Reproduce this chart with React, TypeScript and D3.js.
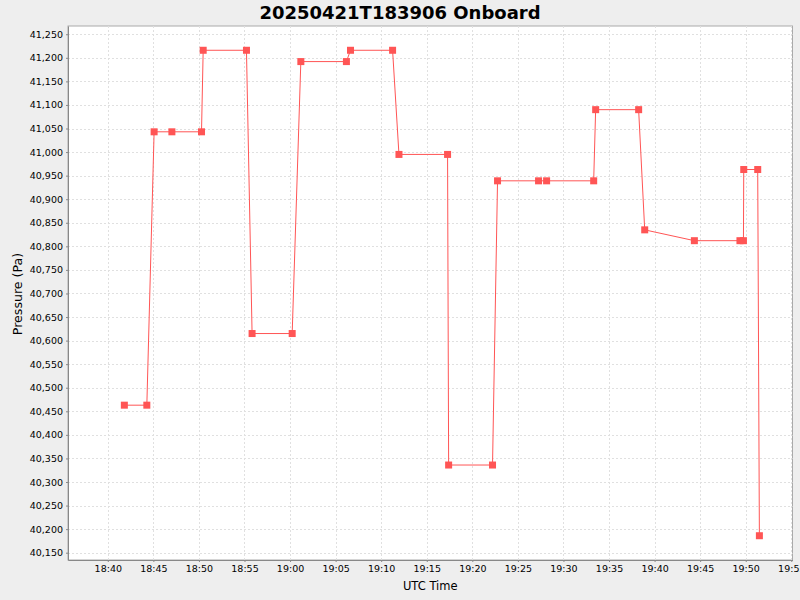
import { useEffect, useRef } from 'react'
import * as d3 from 'd3'

const title = '20250421T183906 Onboard'
const day = '2025-04-21'

// sample times (UTC) and pressure readings
const times = [
  '18:41:49', '18:44:17', '18:45:05', '18:47:02', '18:50:17', '18:50:28',
  '18:55:13', '18:55:50', '19:00:14', '19:01:11', '19:06:11', '19:06:38',
  '19:11:15', '19:11:57', '19:17:17', '19:17:24', '19:22:13', '19:22:46',
  '19:27:16', '19:28:09', '19:33:19', '19:33:32', '19:38:15', '19:38:55',
  '19:44:22', '19:49:22', '19:49:45', '19:49:47', '19:51:19', '19:51:30',
]
const pressures = [
  40463, 40463, 41043, 41043, 41043, 41216,
  41216, 40615, 40615, 41192, 41192, 41216,
  41216, 40995, 40995, 40336, 40336, 40939,
  40939, 40939, 40939, 41090, 41090, 40835,
  40812, 40812, 40812, 40963, 40963, 40186,
]

const timeRange = ['18:35:38', '19:55:08']
const xTickLabels = [
  '18:40', '18:45', '18:50', '18:55', '19:00', '19:05', '19:10', '19:15',
  '19:20', '19:25', '19:30', '19:35', '19:40', '19:45', '19:50', '19:55',
]
const yTickValues = [
  40150, 40200, 40250, 40300, 40350, 40400, 40450, 40500, 40550, 40600, 40650, 40700,
  40750, 40800, 40850, 40900, 40950, 41000, 41050, 41100, 41150, 41200, 41250,
]

const toDate = (t: string) => new Date(`${day}T${t}Z`)

const App = () => {
  const ref = useRef<SVGSVGElement>(null)

  useEffect(() => {
    const svg = d3.select(ref.current)
    svg.selectAll('*').remove()

    const width = 800
    const height = 600
    const margin = { top: 26, right: 7.5, bottom: 40, left: 68 }
    const font = 'DejaVu Sans, sans-serif'

    const data = times.map((t, i) => ({ time: toDate(t), value: pressures[i] }))

    const x = d3
      .scaleUtc()
      .domain(timeRange.map(toDate))
      .range([margin.left, width - margin.right])

    const [lo, hi] = d3.extent(pressures) as [number, number]
    const pad = (hi - lo) * 0.05
    const y = d3
      .scaleLinear()
      .domain([lo - pad, hi + pad])
      .range([height - margin.bottom, margin.top])

    svg.append('rect').attr('width', width).attr('height', height).attr('fill', '#eeeeee')

    svg
      .append('rect')
      .attr('x', margin.left)
      .attr('y', margin.top)
      .attr('width', width - margin.right - margin.left)
      .attr('height', height - margin.bottom - margin.top)
      .attr('fill', '#ffffff')
      .attr('stroke', '#aaaaaa')
      .attr('stroke-width', 1)

    const xTicks = xTickLabels.map(toDate)

    // grid
    const grid = svg
      .append('g')
      .attr('stroke', '#e0e0e0')
      .attr('stroke-width', 1)
      .attr('stroke-dasharray', '2,2')
    grid
      .selectAll('.vx')
      .data(xTicks)
      .join('line')
      .attr('x1', (d) => Math.round(x(d)) + 0.5)
      .attr('x2', (d) => Math.round(x(d)) + 0.5)
      .attr('y1', margin.top)
      .attr('y2', height - margin.bottom)
    grid
      .selectAll('.hy')
      .data(yTickValues)
      .join('line')
      .attr('y1', (d) => Math.round(y(d)) + 0.5)
      .attr('y2', (d) => Math.round(y(d)) + 0.5)
      .attr('x1', margin.left)
      .attr('x2', width - margin.right)

    // axes
    const xAxis = (g) =>
      g
        .attr('transform', `translate(0,${height - margin.bottom})`)
        .call(
          d3
            .axisBottom(x)
            .tickValues(xTicks)
            .tickFormat(d3.utcFormat('%H:%M'))
            .tickSize(2)
            .tickSizeOuter(0)
            .tickPadding(3)
        )
        .call((g) => g.select('.domain').attr('stroke', '#888888'))
        .call((g) => g.selectAll('.tick line').attr('stroke', '#888888'))
        .call((g) =>
          g.selectAll('.tick text').attr('font-size', 9.5).attr('font-family', font).attr('fill', '#000')
        )

    const yAxis = (g) =>
      g
        .attr('transform', `translate(${margin.left},0)`)
        .call(
          d3
            .axisLeft(y)
            .tickValues(yTickValues)
            .tickFormat(d3.format(','))
            .tickSize(2)
            .tickSizeOuter(0)
            .tickPadding(3)
        )
        .call((g) => g.select('.domain').attr('stroke', '#888888'))
        .call((g) => g.selectAll('.tick line').attr('stroke', '#888888'))
        .call((g) =>
          g.selectAll('.tick text').attr('font-size', 9.5).attr('font-family', font).attr('fill', '#000')
        )

    svg.append('g').call(xAxis)
    svg.append('g').call(yAxis)

    // series
    const plot = svg.append('g')
    plot
      .append('path')
      .datum(data)
      .attr('fill', 'none')
      .attr('stroke', '#ff5555')
      .attr('stroke-width', 1)
      .attr(
        'd',
        d3
          .line<{ time: Date; value: number }>()
          .x((d) => x(d.time))
          .y((d) => y(d.value))
      )
    plot
      .selectAll('.pt')
      .data(data)
      .join('rect')
      .attr('x', (d) => x(d.time) - 3.5)
      .attr('y', (d) => y(d.value) - 3.5)
      .attr('width', 7)
      .attr('height', 7)
      .attr('fill', '#ff5555')

    // labels
    svg
      .append('text')
      .attr('x', width / 2)
      .attr('y', 18.5)
      .attr('text-anchor', 'middle')
      .attr('font-family', font)
      .attr('font-weight', 'bold')
      .attr('font-size', 18)
      .text(title)

    svg
      .append('text')
      .attr('x', (margin.left + width - margin.right) / 2)
      .attr('y', 590)
      .attr('text-anchor', 'middle')
      .attr('font-family', font)
      .attr('font-size', 11.5)
      .text('UTC Time')

    svg
      .append('text')
      .attr('transform', `translate(22,${(margin.top + height - margin.bottom) / 2 + 1}) rotate(-90)`)
      .attr('text-anchor', 'middle')
      .attr('font-family', font)
      .attr('font-size', 12.6)
      .text('Pressure (Pa)')
  }, [])

  return (
    <svg
      ref={ref}
      width={800}
      height={600}
      style={{ position: 'absolute', left: 0, top: 0, display: 'block' }}
    />
  )
}

export default App
